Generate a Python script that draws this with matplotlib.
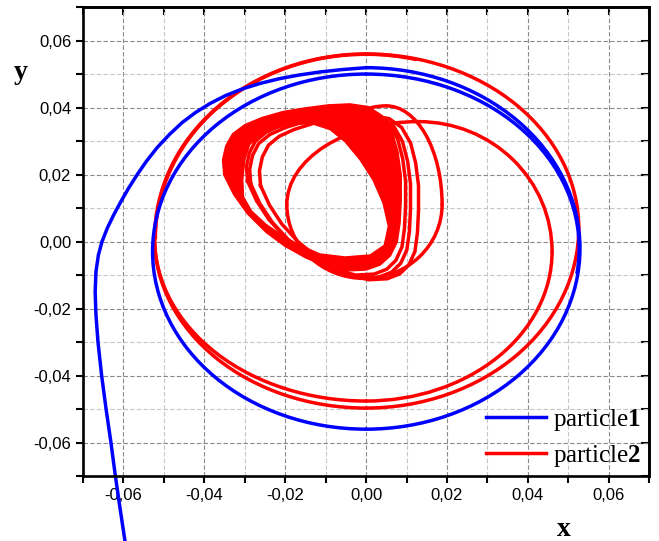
import numpy as np
import matplotlib
matplotlib.use("Agg")
import matplotlib.pyplot as plt
from matplotlib.patches import Arc, PathPatch
from matplotlib.path import Path
from matplotlib.lines import Line2D
from matplotlib.ticker import FixedLocator, FuncFormatter
from matplotlib.transforms import Affine2D

plt.rcParams["mathtext.fontset"] = "custom"
plt.rcParams["mathtext.rm"] = "Liberation Serif"
plt.rcParams["mathtext.bf"] = "Liberation Serif:bold"

BLUE = "#0000ff"
RED = "#ff0000"
LW = 2.5

# ---- particle 1 -------------------------------------------------------
# incoming branch (starts below the frame)
p1_tail_x = [-0.0593, -0.0608, -0.0620, -0.0631, -0.0643, -0.0654, -0.0663,
             -0.0668, -0.0670, -0.0668, -0.0662, -0.0653, -0.0640, -0.0624,
             -0.0606, -0.0587, -0.0566, -0.0543, -0.0517, -0.0486, -0.0455,
             -0.0422, -0.0386, -0.0347, -0.0305, -0.0262, -0.0215, -0.0166,
             -0.0115, -0.0062, 0.0]
p1_tail_y = [-0.0920, -0.0800, -0.0700, -0.0600, -0.0500, -0.0400, -0.0300,
             -0.0220, -0.0150, -0.0090, -0.0040, 0.0000, 0.0040, 0.0080,
             0.0120, 0.0160, 0.0200, 0.0240, 0.0280, 0.0320, 0.0355,
             0.0385, 0.0412, 0.0436, 0.0456, 0.0472, 0.0486, 0.0497,
             0.0506, 0.0513, 0.0519]
# orbit pieces: centre, half axes, start/end angle (deg)
p1_cx = [0.0, 0.0, 0.0]
p1_cy = [-0.00205, -0.0030, -0.0020]
p1_rx = [0.0529, 0.0528, 0.0527]
p1_ry = [0.05395, 0.0530, 0.0520]
p1_t1 = [-90, 90, -8]
p1_t2 = [90, 270, 90]

# ---- particle 2 -------------------------------------------------------
# dense limit band: outer edge and inner hole
band_out_x = [-0.0352, -0.0355, -0.0347, -0.0330, -0.0300, -0.0258, -0.0206,
              -0.0151, -0.0094, -0.0040, 0.0005, 0.0040, 0.0065, 0.0079,
              0.0087, 0.0087, 0.0084, 0.0077, 0.0060, 0.0035, 0.0000,
              -0.0052, -0.0102, -0.0149, -0.0201, -0.0248, -0.0293, -0.0327]
band_out_y = [0.0199, 0.0244, 0.0286, 0.0322, 0.0349, 0.0370, 0.0388,
              0.0399, 0.0408, 0.0411, 0.0403, 0.0376, 0.0328, 0.0268,
              0.0199, 0.0124, 0.0055, -0.0002, -0.0043, -0.0070, -0.0085,
              -0.0088, -0.0073, -0.0049, -0.0014, 0.0028, 0.0082, 0.0139]
band_in_x = [-0.0303, -0.0305, -0.0300, -0.0288, -0.0263, -0.0228, -0.0184,
             -0.0134, -0.0089, -0.0052, -0.0015, 0.0017, 0.0042, 0.0055,
             0.0045, 0.0010, -0.0052, -0.0114, -0.0164, -0.0206, -0.0248,
             -0.0283]
band_in_y = [0.0133, 0.0184, 0.0244, 0.0289, 0.0319, 0.0337, 0.0349,
             0.0352, 0.0334, 0.0298, 0.0244, 0.0184, 0.0115, 0.0046,
             -0.0011, -0.0040, -0.0046, -0.0037, -0.0011, 0.0017, 0.0052,
             0.0091]
# loose turns beside the band (shift and scale of the band edge)
strand_dx = [0.0035, 0.0045, 0.0067]
strand_dy = [-0.0018, -0.0026, -0.0031]
strand_sx = [0.89, 0.90, 0.89]
strand_sy = [0.976, 0.98, 0.98]
# spiral arcs from the band out to the large orbit
p2_cx = [0.005, 0.005, -0.0004, 0.013, 0.013, 0.0, 0.0, 0.0, 0.0, 0.0, 0.0, 0.0]
p2_cy = [0.011, 0.011, 0.011, 0.011, -0.003, -0.003, 0.001, 0.001, 0.004, 0.004, 0.001, 0.001]
p2_rx = [0.020, 0.0138, 0.0192, 0.0326, 0.033, 0.046, 0.0523, 0.0523, 0.0526, 0.0526, 0.0523, 0.0521]
p2_ry = [0.0295, 0.0295, 0.022, 0.0248, 0.0388, 0.0446, 0.0486, 0.055, 0.052, 0.0537, 0.0507, 0.0549]
p2_t1 = [90, 0, 180, 90, 0, 270, 180, 90, 0, 270, 180, 77]
p2_t2 = [120, 90, 360, 180, 90, 360, 270, 180, 90, 360, 270, 180]

major = [-0.06, -0.04, -0.02, 0.0, 0.02, 0.04, 0.06]
minor = [-0.07, -0.05, -0.03, -0.01, 0.01, 0.03, 0.05, 0.07]

fig = plt.figure(figsize=(6.59, 5.41), dpi=100)
ax = fig.add_axes([0.126, 0.120, 0.859, 0.867])
ax.set_xlim(-0.07, 0.07)
ax.set_ylim(-0.07, 0.07)

# band as a filled ring
outer = np.column_stack([band_out_x, band_out_y])
inner = np.column_stack([band_in_x, band_in_y])[::-1]
verts = np.concatenate([outer, outer[:1], inner, inner[:1]])
codes = ([Path.MOVETO] + [Path.LINETO] * (len(outer) - 1) + [Path.CLOSEPOLY]
         + [Path.MOVETO] + [Path.LINETO] * (len(inner) - 1) + [Path.CLOSEPOLY])
ax.add_patch(PathPatch(Path(verts, codes), facecolor=RED, edgecolor=RED, lw=1.0))

bx = (min(band_out_x) + max(band_out_x)) / 2
by = (min(band_out_y) + max(band_out_y)) / 2
loop_x = band_out_x + band_out_x[:1]
loop_y = band_out_y + band_out_y[:1]
for dx, dy, sx, sy in zip(strand_dx, strand_dy, strand_sx, strand_sy):
    tr = Affine2D().translate(-bx, -by).scale(sx, sy).translate(bx + dx, by + dy)
    ax.plot(loop_x, loop_y, color=RED, lw=LW, transform=tr + ax.transData,
            solid_joinstyle="round")

for cx, cy, rx, ry, t1, t2 in zip(p2_cx, p2_cy, p2_rx, p2_ry, p2_t1, p2_t2):
    ax.add_patch(Arc((cx, cy), 2 * rx, 2 * ry, theta1=t1, theta2=t2,
                     color=RED, lw=LW, capstyle="round"))

ax.plot(p1_tail_x, p1_tail_y, color=BLUE, lw=LW, clip_on=False,
        solid_capstyle="round", solid_joinstyle="round")
for cx, cy, rx, ry, t1, t2 in zip(p1_cx, p1_cy, p1_rx, p1_ry, p1_t1, p1_t2):
    ax.add_patch(Arc((cx, cy), 2 * rx, 2 * ry, theta1=t1, theta2=t2,
                     color=BLUE, lw=LW, capstyle="round"))

# ticks, grid, frame
fmt = FuncFormatter(lambda v, pos: f"{v:.2f}".replace(".", ","))
for axis in (ax.xaxis, ax.yaxis):
    axis.set_major_locator(FixedLocator(major))
    axis.set_minor_locator(FixedLocator(minor))
    axis.set_major_formatter(fmt)
ax.tick_params(which="both", direction="out", length=5, width=1.5,
               labelsize=12, labelfontfamily="Liberation Sans", pad=3.5)
ax.grid(True, which="major", color="#8a8a8a", ls=(0, (4, 2)), lw=0.8)
ax.grid(True, which="minor", color="#c6c6c6", ls=(0, (4, 2)), lw=0.8)
ax.set_axisbelow(True)
for sp in ax.spines.values():
    sp.set_linewidth(1.9)

secx = ax.secondary_xaxis("top")
secy = ax.secondary_yaxis("right")
for sec, axis in ((secx, secx.xaxis), (secy, secy.yaxis)):
    axis.set_major_locator(FixedLocator(major))
    axis.set_minor_locator(FixedLocator(minor))
    sec.tick_params(which="both", direction="in", length=5.5, width=1.5,
                    labeltop=False, labelright=False)
    for sp in sec.spines.values():
        sp.set_linewidth(1.9)

ax.text(-0.110, 0.8465, "y", transform=ax.transAxes, ha="center", va="baseline",
        fontfamily="Liberation Serif", fontweight="bold", fontsize=20)
ax.text(0.850, -0.128, "x", transform=ax.transAxes, ha="center", va="baseline",
        fontfamily="Liberation Serif", fontweight="bold", fontsize=20)

handles = [Line2D([], [], color=BLUE, lw=LW), Line2D([], [], color=RED, lw=LW)]
labels = [r"particle$\mathbf{1}$", r"particle$\mathbf{2}$"]
ax.legend(handles, labels, loc="lower right", bbox_to_anchor=(1.0, 0.0),
          frameon=False, prop={"family": "Liberation Serif", "size": 18},
          handlelength=2.4, handletextpad=0.3, labelspacing=0.4,
          borderaxespad=0.1, borderpad=0.2)

fig.savefig("out.png", dpi=100)
